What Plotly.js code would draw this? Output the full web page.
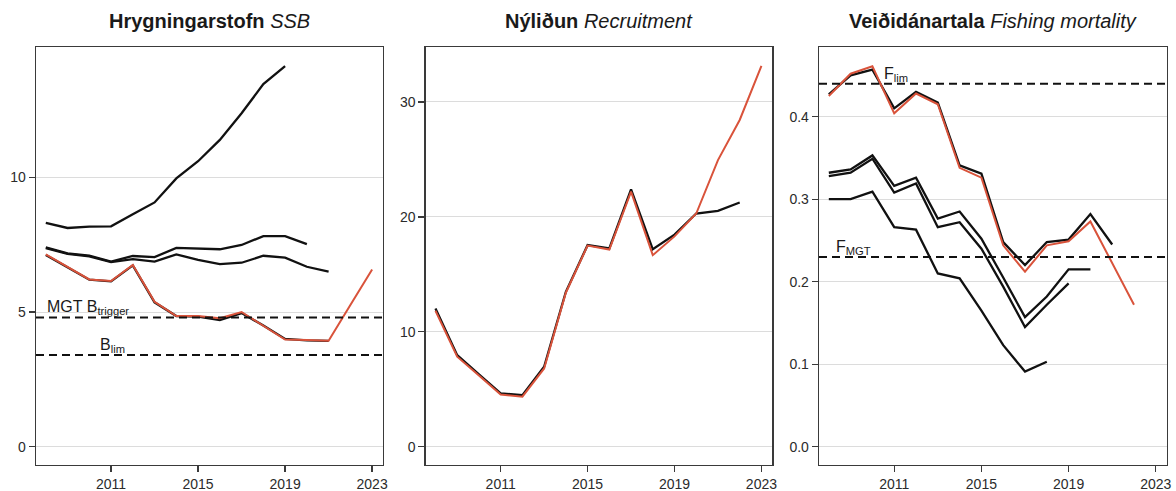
<!DOCTYPE html>
<html>
<head>
<meta charset="utf-8">
<script src="https://cdn.plot.ly/plotly-3.0.1.min.js"></script>
<style>html,body{margin:0;padding:0;background:#fff;}#chart{width:1176px;height:491px;}</style>
</head>
<body>
<div id="chart"></div>
<script>
// ---- Data ----
const yearsSSB = [2008,2009,2010,2011,2012,2013,2014,2015,2016,2017,2018,2019,2020,2021,2022,2023];
const ssbRun2019 = [8.31, 8.12, 8.17, 8.18, 8.63, 9.07, 9.96, 10.6, 11.39, 12.38, 13.46, 14.13];
const ssbRun2020 = [7.40, 7.18, 7.09, 6.87, 7.08, 7.04, 7.38, 7.35, 7.33, 7.49, 7.82, 7.82, 7.52];
const ssbRun2021 = [7.37, 7.16, 7.07, 6.85, 6.96, 6.87, 7.14, 6.94, 6.78, 6.83, 7.09, 7.02, 6.68, 6.50];
const ssbRun2022 = [7.12, 6.66, 6.20, 6.14, 6.73, 5.36, 4.85, 4.83, 4.70, 4.96, 4.50, 4.00, 3.95, 3.93];
const ssbLatest  = [7.14, 6.68, 6.21, 6.15, 6.75, 5.38, 4.85, 4.85, 4.77, 5.00, 4.50, 3.98, 3.96, 3.93, 5.26, 6.58];
const ssbBtrigger = 4.8;
const ssbBlim = 3.4;

const recPrev   = [12.03, 7.97, 6.30, 4.64, 4.49, 6.96, 13.48, 17.54, 17.25, 22.38, 17.18, 18.45, 20.29, 20.52, 21.25];
const recLatest = [11.83, 7.83, 6.20, 4.55, 4.35, 6.81, 13.40, 17.50, 17.16, 22.20, 16.67, 18.30, 20.29, 24.94, 28.43, 33.14];

const fRunA = [0.427, 0.450, 0.457, 0.410, 0.430, 0.417, 0.341, 0.331, 0.248, 0.220, 0.248, 0.251, 0.282, 0.245];
const fRunB = [0.332, 0.336, 0.353, 0.316, 0.326, 0.2765, 0.285, 0.252, 0.205, 0.157, 0.182, 0.215, 0.215];
const fRunC = [0.328, 0.332, 0.349, 0.308, 0.319, 0.266, 0.272, 0.240, 0.194, 0.145, 0.172, 0.198];
const fRunD = [0.300, 0.300, 0.309, 0.266, 0.263, 0.210, 0.204, 0.165, 0.123, 0.091, 0.103];
const fLatest = [0.425, 0.452, 0.461, 0.404, 0.428, 0.415, 0.338, 0.326, 0.244, 0.212, 0.244, 0.249, 0.273, 0.222, 0.172];
const fLim = 0.44;
const fMGT = 0.23;

const xTicks = [2011, 2015, 2019, 2023];
const titles = ['<b>Hrygningarstofn</b> <i>SSB</i>', '<b>Nýliðun</b> <i>Recruitment</i>', '<b>Veiðidánartala</b> <i>Fishing mortality</i>'];

// ---- Styles ----
const RED = '#d9533b';
const BLACK = '#111111';
const FONT = 'Liberation Sans, Arial, Helvetica, sans-serif';

function line(ys, ax, color, width) {
  return {
    x: yearsSSB.slice(0, ys.length), y: ys, xaxis: 'x' + ax, yaxis: 'y' + ax,
    type: 'scatter', mode: 'lines', line: {color: color, width: width},
    hoverinfo: 'skip', showlegend: false
  };
}

const traces = [
  line(ssbRun2019, '', BLACK, 2.3), line(ssbRun2020, '', BLACK, 2.3), line(ssbRun2021, '', BLACK, 2.3),
  line(ssbRun2022, '', BLACK, 2.3), line(ssbLatest, '', RED, 2),
  line(recPrev, '2', BLACK, 2.3), line(recLatest, '2', RED, 2),
  line(fRunD, '3', BLACK, 2.3), line(fRunC, '3', BLACK, 2.3), line(fRunB, '3', BLACK, 2.3),
  line(fRunA, '3', BLACK, 2.3), line(fLatest, '3', RED, 2)
];

const W = 1176, H = 491;
const xDom = [[36/W, 383/W], [425.7/W, 772.3/W], [819/W, 1166.7/W]];
const yDom = [(H-465)/H, (H-47)/H];

function xa(i) {
  return {
    domain: xDom[i], anchor: i === 0 ? 'y' : 'y' + (i+1), range: [2007.55, 2023.5],
    tickvals: xTicks, ticktext: xTicks.map(String), showgrid: false, zeroline: false,
    showline: true, mirror: true, linecolor: '#3a3a3a', linewidth: 1.3,
    ticks: 'outside', ticklen: 6, tickwidth: 1.3, tickcolor: '#3a3a3a',
    tickfont: {family: FONT, size: 14, color: '#2b2b2b'}, automargin: false, fixedrange: true
  };
}
function ya(i, range, tickvals, fmt) {
  return {
    domain: yDom, anchor: i === 0 ? 'x' : 'x' + (i+1), range: range, tickvals: tickvals,
    ticktext: tickvals.map(v => fmt ? v.toFixed(1) : String(v)),
    showgrid: true, gridcolor: '#dcdcdc', gridwidth: 1, zeroline: false,
    showline: true, mirror: true, linecolor: '#3a3a3a', linewidth: 1.3,
    ticks: 'outside', ticklen: 6, tickwidth: 1.3, tickcolor: '#3a3a3a',
    tickfont: {family: FONT, size: 14, color: '#2b2b2b'}, automargin: false, fixedrange: true
  };
}

function hline(y, ax) {
  return {type: 'line', xref: 'x' + ax + ' domain', yref: 'y' + ax, x0: 0, x1: 1, y0: y, y1: y,
          line: {color: BLACK, width: 2, dash: '8px,5px'}, layer: 'above'};
}

const annFont = {family: FONT, size: 16, color: '#1a1a1a'};
const annotations = titles.map((t, i) => ({
  text: t, xref: (i === 0 ? 'x' : 'x' + (i+1)) + ' domain', x: 0.5, yref: 'paper', y: (H-21)/H,
  xanchor: 'center', yanchor: 'middle', showarrow: false,
  font: {family: FONT, size: 20, color: '#1a1a1a'}
}));
annotations.push(
  {text: 'MGT B<sub>trigger</sub>', xref: 'x', yref: 'y', x: 2007.96, y: ssbBtrigger, xanchor: 'left', yanchor: 'bottom', yshift: -2, showarrow: false, font: annFont},
  {text: 'B<sub>lim</sub>', xref: 'x', yref: 'y', x: 2010.39, y: ssbBlim, xanchor: 'left', yanchor: 'bottom', yshift: -2, showarrow: false, font: annFont},
  {text: 'F<sub>lim</sub>', xref: 'x3', yref: 'y3', x: 2010.42, y: fLim, xanchor: 'left', yanchor: 'bottom', yshift: -2, showarrow: false, font: annFont},
  {text: 'F<sub>MGT</sub>', xref: 'x3', yref: 'y3', x: 2008.22, y: fMGT, xanchor: 'left', yanchor: 'bottom', yshift: -2, showarrow: false, font: annFont}
);

const layout = {
  width: W, height: H, margin: {l: 0, r: 0, t: 0, b: 0},
  paper_bgcolor: '#ffffff', plot_bgcolor: '#ffffff',
  font: {family: FONT, color: '#333'},
  showlegend: false,
  xaxis: xa(0), xaxis2: xa(1), xaxis3: xa(2),
  yaxis: ya(0, [-0.68, 14.84], [0, 5, 10], false),
  yaxis2: ya(1, [-1.59, 34.78], [0, 10, 20, 30], false),
  yaxis3: ya(2, [-0.0222, 0.4844], [0, 0.1, 0.2, 0.3, 0.4], true),
  shapes: [hline(ssbBtrigger, ''), hline(ssbBlim, ''), hline(fLim, '3'), hline(fMGT, '3')],
  annotations: annotations
};

Plotly.newPlot('chart', traces, layout, {displayModeBar: false, staticPlot: true});
</script>
</body>
</html>
